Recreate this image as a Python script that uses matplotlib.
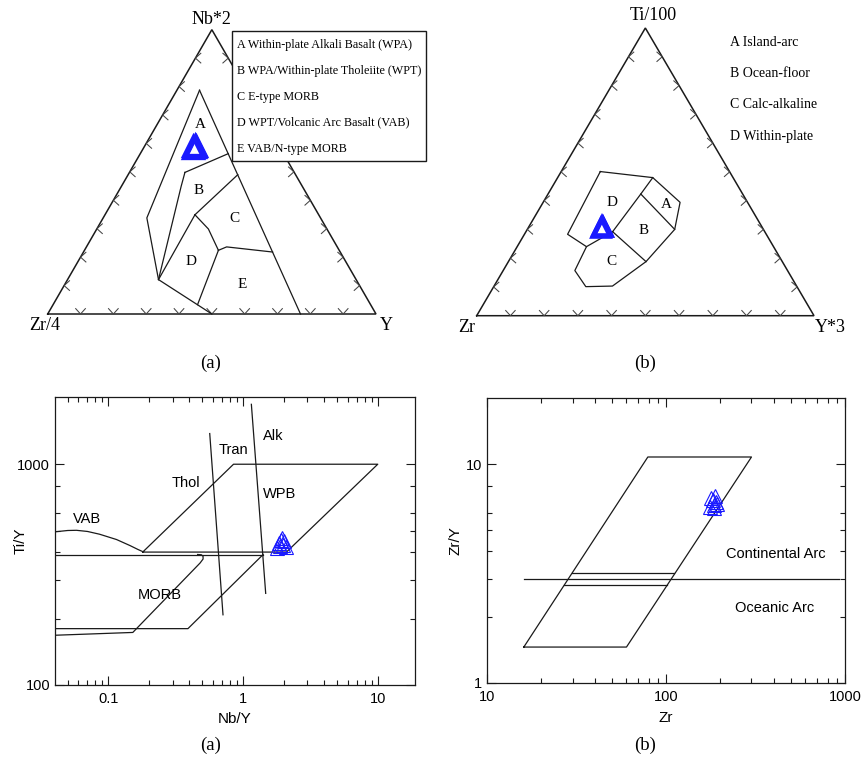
import numpy as np
import matplotlib
matplotlib.use("Agg")
import matplotlib.pyplot as plt
from matplotlib.patches import Rectangle
from matplotlib.ticker import FixedLocator, LogLocator, NullFormatter

W, H = 868, 764
SERIF = ["Liberation Serif", "DejaVu Serif"]
SANS = ["Liberation Sans", "DejaVu Sans"]
BLUE = "#1a1aff"
INK = "#1a1a1a"

# ---------------- Nb*2 - Zr/4 - Y diagram (Meschede, 1986) ----------------
# field boundaries as (Nb*2, Y) fractions; Zr/4 is the remainder
mes_boundaries = [
    [(0.787, 0.069), (0.338, 0.133), (0.121, 0.277), (0.0, 0.500)],
    [(0.787, 0.069), (0.0, 0.770)],
    [(0.498, 0.169), (0.564, 0.268)],
    [(0.498, 0.169), (0.449, 0.182), (0.121, 0.277)],
    [(0.349, 0.274), (0.490, 0.334)],
    [(0.349, 0.274), (0.121, 0.277)],
    [(0.349, 0.274), (0.299, 0.340), (0.224, 0.408)],
    [(0.224, 0.408), (0.236, 0.427), (0.218, 0.576)],
    [(0.224, 0.408), (0.033, 0.440)],
]
mes_legend = [
    "A Within-plate Alkali Basalt (WPA)",
    "B WPA/Within-plate Tholeiite (WPT)",
    "C E-type MORB",
    "D WPT/Volcanic Arc Basalt (VAB)",
    "E VAB/N-type MORB",
]
mes_nb2 = [0.584, 0.588, 0.592, 0.596, 0.590]
mes_y = [0.150, 0.154, 0.148, 0.152, 0.156]
mes_zr4 = [1 - a - b for a, b in zip(mes_nb2, mes_y)]

# ---------------- Ti/100 - Zr - Y*3 diagram (Pearce & Cann, 1973) ----------------
# field boundaries as (Ti/100, Y*3) fractions; Zr is the remainder
pc_boundaries = [
    [(0.501, 0.116), (0.480, 0.282), (0.394, 0.406), (0.300, 0.437),
     (0.188, 0.408), (0.103, 0.351), (0.101, 0.273), (0.157, 0.2125),
     (0.240, 0.2055), (0.283, 0.128), (0.501, 0.116)],
    [(0.480, 0.282), (0.423, 0.275), (0.292, 0.257)],
    [(0.423, 0.275), (0.300, 0.437)],
    [(0.292, 0.257), (0.188, 0.408)],
    [(0.240, 0.2055), (0.292, 0.257)],
]
pc_legend = ["A Island-arc", "B Ocean-floor", "C Calc-alkaline", "D Within-plate"]
pc_ti = [0.305, 0.309, 0.312, 0.308]
pc_y3 = [0.216, 0.219, 0.214, 0.221]
pc_zr = [1 - a - b for a, b in zip(pc_ti, pc_y3)]

# ---------------- Ti/Y vs Nb/Y ----------------
tiy_lines = {
    "wpb": [(0.18, 400), (0.85, 1000), (10, 1000), (2.1, 400), (0.18, 400)],
    "vab": [(0.04, 494), (0.05, 501), (0.058, 502), (0.07, 496), (0.086, 482),
            (0.115, 456), (0.145, 428), (0.166, 411), (0.18, 402)],
    "base390": [(0.04, 390), (1.41, 390)],
    "lower": [(0.04, 180), (0.39, 180), (1.41, 390)],
    "morb": [(0.04, 168), (0.152, 173), (0.48, 357), (0.505, 372),
             (0.505, 383), (0.49, 389), (0.46, 390)],
    "thol_tran": [(0.566, 1377), (0.71, 208)],
    "tran_alk": [(1.153, 1868), (1.473, 260)],
}
nb_y = [1.80, 1.86, 1.92, 1.97, 2.02, 2.08, 1.95, 1.89]
ti_y = [418, 440, 455, 430, 448, 422, 462, 426]

# ---------------- Zr/Y vs Zr ----------------
zry_lines = {
    "field": [(16, 1.46), (60, 1.46), (300, 10.8), (79, 10.8), (16, 1.46)],
    "divide": [(16, 3.0), (930, 3.0)],
    "upper": [(29.6, 3.18), (111, 3.18)],
    "lower": [(27, 2.82), (101, 2.82)],
}
zr = [176, 182, 188, 193, 185, 179, 190, 184]
zr_y = [6.4, 6.9, 7.2, 6.6, 6.3, 7.0, 6.7, 6.5]

fig = plt.figure(figsize=(W / 100, H / 100), dpi=100)
fig.patch.set_facecolor("white")


def px_axes(x0, y0, x1, y1):
    return fig.add_axes([x0 / W, 1 - y1 / H, (x1 - x0) / W, (y1 - y0) / H])


def ftext(px, py, s, **kw):
    return fig.text(px / W, 1 - py / H, s, **kw)


S3 = np.sqrt(3) / 2


def tern(top, right):
    top = np.asarray(top, float)
    right = np.asarray(right, float)
    return right + 0.5 * top, S3 * top


def draw_triangle(ax, arm):
    ax.plot([0, 1, 0.5, 0], [0, 0, S3, 0], color=INK, lw=1.1,
            solid_joinstyle="miter", zorder=2)
    a = np.deg2rad(42)
    for k in range(1, 10):
        f = k / 10
        # bottom edge: V opening upward
        p = np.array([f, 0.0])
        d1 = np.array([np.sin(a), np.cos(a)])
        d2 = np.array([-np.sin(a), np.cos(a)])
        ax.plot([p[0] + arm * d1[0], p[0], p[0] + arm * d2[0]],
                [p[1] + arm * d1[1], p[1], p[1] + arm * d2[1]],
                color="#444444", lw=0.75, zorder=2)
        # left edge: < opening right
        p = np.array([0.5 * f, S3 * f])
        d1 = np.array([np.cos(a), np.sin(a)])
        d2 = np.array([np.cos(a), -np.sin(a)])
        ax.plot([p[0] + arm * d1[0], p[0], p[0] + arm * d2[0]],
                [p[1] + arm * d1[1], p[1], p[1] + arm * d2[1]],
                color="#444444", lw=0.75, zorder=2)
        # right edge: > opening left
        p = np.array([1 - 0.5 * f, S3 * f])
        d1 = np.array([-np.cos(a), np.sin(a)])
        d2 = np.array([-np.cos(a), -np.sin(a)])
        ax.plot([p[0] + arm * d1[0], p[0], p[0] + arm * d2[0]],
                [p[1] + arm * d1[1], p[1], p[1] + arm * d2[1]],
                color="#444444", lw=0.75, zorder=2)


# ===== Nb*2 - Zr/4 - Y =====
axa = px_axes(0, 0, 434, 340)
sa = 328.3
axa.set_xlim(-47.7 / sa, (434 - 47.7) / sa)
axa.set_ylim((314 - 340) / sa, 314 / sa)
axa.axis("off")
draw_triangle(axa, 0.022)
for seg in mes_boundaries:
    t, r = zip(*seg)
    x, y = tern(t, r)
    axa.plot(x, y, color=INK, lw=0.9, zorder=3)
mx, my = tern(mes_nb2, mes_y)
axa.plot(mx, my, ls="none", marker="^", ms=14, mfc="none", mec=BLUE,
         mew=2.4, zorder=4, clip_on=False)

ftext(211, 19, "Nb*2", ha="center", va="center", fontsize=13, family=SERIF)
ftext(45, 325, "Zr/4", ha="center", va="center", fontsize=13, family=SERIF)
ftext(386, 325, "Y", ha="center", va="center", fontsize=13, family=SERIF)
for lab, px, py in [("A", 200, 124), ("B", 199, 190), ("C", 234, 219),
                    ("D", 191, 262), ("E", 242, 284)]:
    ftext(px, py, lab, ha="center", va="center", fontsize=11, family=SERIF)

box = Rectangle((232.3 / W, 1 - 160.7 / H), (426 - 232.3) / W, (160.7 - 30.7) / H,
                transform=fig.transFigure, facecolor="white", edgecolor=INK,
                lw=1.0, zorder=5)
fig.add_artist(box)
for i, s in enumerate(mes_legend):
    ftext(236.5, 45 + i * 25.9, s, ha="left", va="center", fontsize=8.7,
          family=SERIF, zorder=6)
ftext(211, 363, "(a)", ha="center", va="center", fontsize=13.5, family=SERIF)

# ===== Ti/100 - Zr - Y*3 =====
axb = px_axes(434, 0, 868, 340)
sx, sy = 337.3, 332.2
axb.set_xlim((434 - 476.7) / sx, (868 - 476.7) / sx)
axb.set_ylim((315.7 - 340) / sy, 315.7 / sy)
axb.axis("off")
draw_triangle(axb, 0.021)
for seg in pc_boundaries:
    t, r = zip(*seg)
    x, y = tern(t, r)
    axb.plot(x, y, color=INK, lw=0.9, zorder=3)
px_, py_ = tern(pc_ti, pc_y3)
axb.plot(px_, py_, ls="none", marker="^", ms=13, mfc="none", mec=BLUE,
         mew=2.6, zorder=4)

ftext(653, 16, "Ti/100", ha="center", va="center", fontsize=13, family=SERIF)
ftext(467, 328, "Zr", ha="center", va="center", fontsize=13, family=SERIF)
ftext(830, 328, "Y*3", ha="center", va="center", fontsize=13, family=SERIF)
for lab, px, py in [("D", 612, 202), ("A", 666, 204), ("B", 644, 231),
                    ("C", 611, 262)]:
    ftext(px, py, lab, ha="center", va="center", fontsize=11, family=SERIF)
for i, s in enumerate(pc_legend):
    ftext(730.5, 42.5 + i * 31.2, s, ha="left", va="center", fontsize=10,
          family=SERIF)
ftext(645, 363, "(b)", ha="center", va="center", fontsize=13.5, family=SERIF)


# ===== log-log panels =====
def style_log(ax, yminor):
    ax.set_xscale("log")
    ax.set_yscale("log")
    ax.xaxis.set_minor_locator(LogLocator(base=10, subs=np.arange(2, 10)))
    ax.xaxis.set_minor_formatter(NullFormatter())
    ax.yaxis.set_minor_locator(FixedLocator(yminor))
    ax.yaxis.set_minor_formatter(NullFormatter())
    ax.tick_params(which="both", direction="in", top=True, right=True,
                   width=0.8, color=INK)
    ax.tick_params(which="major", length=6.5, labelsize=10.5)
    ax.tick_params(which="minor", length=3.5)
    ax.tick_params(axis="x", which="major", pad=5)
    ax.tick_params(axis="y", which="major", pad=3.5)
    for sp in ax.spines.values():
        sp.set_linewidth(0.9)
        sp.set_color(INK)


axc = px_axes(55, 397, 415, 685)
style_log(axc, [200, 300, 400, 500, 600, 800])
axc.set_xlim(0.0402, 18.9)
axc.set_ylim(100, 2016)
axc.set_xticks([0.1, 1, 10])
axc.set_xticklabels(["0.1", "1", "10"])
axc.set_yticks([100, 1000])
axc.set_yticklabels(["100", "1000"])
for lab in axc.get_xticklabels() + axc.get_yticklabels():
    lab.set_family(SANS)
for key, seg in tiy_lines.items():
    x, y = zip(*seg)
    axc.plot(x, y, color=INK, lw=0.9, zorder=2)
axc.plot(nb_y, ti_y, ls="none", marker="^", ms=9.5, mfc="none", mec=BLUE,
         mew=0.8, zorder=4)
for s, px, py in [("Alk", 273, 436), ("Tran", 233, 450), ("Thol", 186, 483),
                  ("WPB", 280, 494), ("VAB", 87, 519), ("MORB", 160, 595)]:
    ftext(px, py, s, ha="center", va="center", fontsize=10.5, family=SANS)
axc.set_xlabel("Nb/Y", fontsize=11, family=SANS)
axc.set_ylabel("Ti/Y", fontsize=11, family=SANS)
axc.xaxis.set_label_coords(0.5, -0.095)
axc.yaxis.set_label_coords(-0.075, 0.5)
ftext(211, 745, "(a)", ha="center", va="center", fontsize=13.5, family=SERIF)

axd = px_axes(487.3, 398, 845, 683)
style_log(axd, [2, 3, 4, 5, 6, 8])
axd.set_xlim(10, 1000)
axd.set_ylim(1, 20.1)
axd.set_xticks([10, 100, 1000])
axd.set_xticklabels(["10", "100", "1000"])
axd.set_yticks([1, 10])
axd.set_yticklabels(["1", "10"])
for lab in axd.get_xticklabels() + axd.get_yticklabels():
    lab.set_family(SANS)
for key, seg in zry_lines.items():
    x, y = zip(*seg)
    axd.plot(x, y, color=INK, lw=0.9, zorder=2)
axd.plot(zr, zr_y, ls="none", marker="^", ms=9.5, mfc="none", mec=BLUE,
         mew=0.8, zorder=4)
ftext(776, 554, "Continental Arc", ha="center", va="center", fontsize=10.5,
      family=SANS)
ftext(775, 608, "Oceanic Arc", ha="center", va="center", fontsize=10.5,
      family=SANS)
axd.set_xlabel("Zr", fontsize=11, family=SANS)
axd.set_ylabel("Zr/Y", fontsize=11, family=SANS)
axd.xaxis.set_label_coords(0.5, -0.1)
axd.yaxis.set_label_coords(-0.07, 0.5)
ftext(645, 745, "(b)", ha="center", va="center", fontsize=13.5, family=SERIF)

fig.savefig("out.png", dpi=100, facecolor="white")
